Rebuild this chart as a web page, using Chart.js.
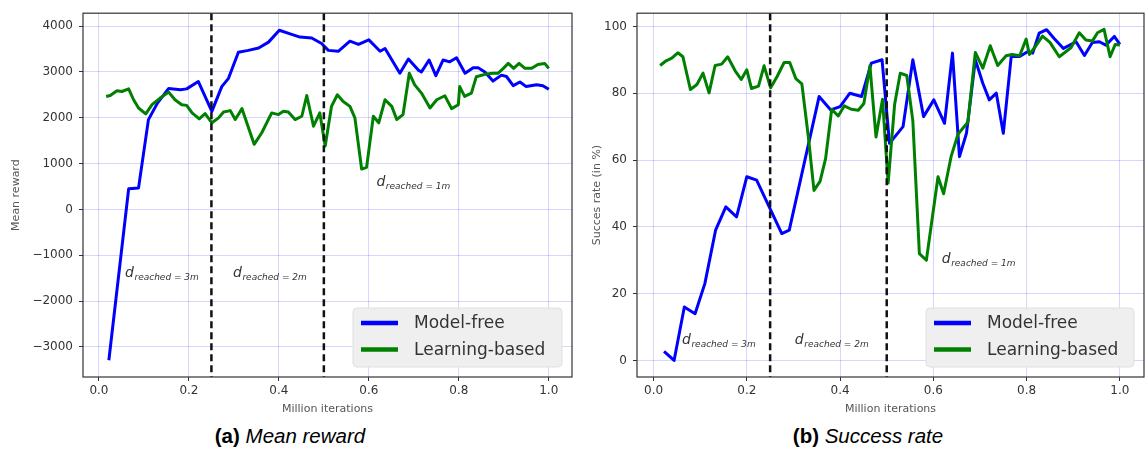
<!DOCTYPE html>
<html><head><meta charset="utf-8">
<script src="https://cdn.jsdelivr.net/npm/chart.js@4.4.0/dist/chart.umd.min.js"></script>
<style>
html,body{margin:0;padding:0;background:#fff;width:1146px;height:455px;overflow:hidden;position:relative}
canvas{position:absolute;top:0}
#c1{left:0}
#c2{left:580px}
.cap{position:absolute;top:424px;font-family:'Liberation Sans',Arial,sans-serif;font-size:20.5px;color:#000;white-space:nowrap;transform:translateX(-50%)}
.cap b{font-weight:bold}.cap i{font-style:italic}
</style></head><body>
<canvas id="c1" width="580" height="420"></canvas>
<canvas id="c2" width="566" height="420"></canvas>
<div class="cap" style="left:290px"><b>(a)</b> <i>Mean reward</i></div>
<div class="cap" style="left:868px"><b>(b)</b> <i>Success rate</i></div>
<script>
// ---------- data ----------
const seriesNames = ['Model-free', 'Learning-based'];
const phaseBoundaries = [0.25, 0.5];
const phaseLabels = ['3m', '2m', '1m'];
const xTicks = [0.0, 0.2, 0.4, 0.6, 0.8, 1.0];
const rewardTicks = [-3000, -2000, -1000, 0, 1000, 2000, 3000, 4000];
const successTicks = [0, 20, 40, 60, 80, 100];

// (a) Mean reward
const rewardFreeX = [0.022, 0.066, 0.088, 0.110, 0.130, 0.155, 0.181, 0.195, 0.221, 0.251, 0.273, 0.288, 0.310, 0.332, 0.355, 0.377, 0.401, 0.425, 0.447, 0.473, 0.495, 0.510, 0.532, 0.558, 0.577, 0.600, 0.625, 0.636, 0.669, 0.688, 0.710, 0.717, 0.734, 0.749, 0.765, 0.780, 0.795, 0.814, 0.832, 0.843, 0.858, 0.876, 0.895, 0.906, 0.921, 0.936, 0.950, 0.973, 0.987, 1.000];
const rewardFreeY = [-3290, 450, 470, 1960, 2320, 2640, 2610, 2630, 2790, 2140, 2680, 2860, 3430, 3470, 3520, 3650, 3910, 3830, 3760, 3740, 3620, 3470, 3450, 3670, 3600, 3700, 3450, 3510, 2970, 3280, 3040, 3000, 3260, 2920, 3260, 3220, 3310, 2970, 3090, 3090, 3000, 2800, 2930, 2900, 2700, 2780, 2680, 2720, 2700, 2620];
const rewardLearnX = [0.016, 0.025, 0.040, 0.051, 0.066, 0.077, 0.088, 0.104, 0.118, 0.136, 0.155, 0.169, 0.184, 0.195, 0.207, 0.223, 0.236, 0.251, 0.266, 0.277, 0.292, 0.303, 0.318, 0.345, 0.362, 0.384, 0.399, 0.410, 0.421, 0.436, 0.451, 0.462, 0.477, 0.491, 0.503, 0.517, 0.530, 0.543, 0.558, 0.569, 0.584, 0.595, 0.610, 0.622, 0.636, 0.651, 0.662, 0.676, 0.690, 0.702, 0.717, 0.736, 0.751, 0.769, 0.784, 0.799, 0.802, 0.813, 0.828, 0.839, 0.858, 0.876, 0.887, 0.899, 0.910, 0.922, 0.934, 0.947, 0.962, 0.976, 0.991, 1.000];
const rewardLearnY = [2465, 2486, 2587, 2573, 2631, 2393, 2213, 2084, 2285, 2430, 2559, 2393, 2285, 2270, 2106, 1976, 2091, 1890, 1998, 2127, 2156, 1961, 2199, 1421, 1674, 2106, 2069, 2141, 2127, 1961, 2033, 2486, 1816, 2106, 1384, 2249, 2501, 2356, 2249, 1998, 881, 918, 2033, 1890, 2393, 2249, 1961, 2069, 2970, 2717, 2538, 2213, 2393, 2480, 2199, 2285, 2680, 2465, 2538, 2896, 2947, 2970, 2970, 3078, 3186, 3078, 3186, 3078, 3078, 3164, 3186, 3078];

// (b) Success rate (in %)
const successFreeX = [0.0225, 0.044, 0.066, 0.089, 0.110, 0.133, 0.155, 0.178, 0.200, 0.221, 0.275, 0.291, 0.355, 0.380, 0.400, 0.421, 0.446, 0.467, 0.490, 0.506, 0.535, 0.556, 0.579, 0.601, 0.624, 0.641, 0.656, 0.671, 0.690, 0.706, 0.720, 0.735, 0.750, 0.767, 0.785, 0.802, 0.813, 0.827, 0.843, 0.859, 0.879, 0.906, 0.924, 0.941, 0.956, 0.970, 0.988, 1.000];
const successFreeY = [2.7, 0, 16, 14, 23, 39, 46, 43, 55, 54, 38, 39, 79, 75, 76, 80, 79, 89, 90, 65, 70, 90, 73, 78, 71, 92, 61, 68, 90, 83, 78, 80, 68, 91, 91, 92.4, 92, 98, 99, 96.4, 93.4, 95.4, 91.3, 95.2, 95.4, 94.4, 97, 94.6];
const successLearnX = [0.014, 0.027, 0.039, 0.052, 0.063, 0.079, 0.093, 0.106, 0.119, 0.132, 0.146, 0.159, 0.175, 0.188, 0.200, 0.210, 0.225, 0.237, 0.251, 0.265, 0.280, 0.292, 0.305, 0.318, 0.332, 0.344, 0.357, 0.369, 0.382, 0.396, 0.409, 0.424, 0.439, 0.451, 0.464, 0.477, 0.491, 0.503, 0.517, 0.529, 0.543, 0.556, 0.570, 0.585, 0.610, 0.622, 0.638, 0.653, 0.674, 0.690, 0.706, 0.722, 0.738, 0.756, 0.769, 0.785, 0.799, 0.806, 0.820, 0.834, 0.850, 0.870, 0.895, 0.913, 0.927, 0.941, 0.952, 0.966, 0.979, 0.990, 1.000];
const successLearnY = [88.3, 89.7, 90.5, 92.1, 90.9, 81.1, 82.6, 86, 80.1, 88.3, 88.7, 90.9, 86.7, 84.1, 87, 81.4, 82.1, 88.2, 81.6, 85, 89.2, 89.2, 84.4, 82.8, 66.9, 50.9, 53.6, 60.5, 75.2, 73.2, 76.2, 75.2, 74.9, 76.9, 88.2, 66.9, 78.2, 53.1, 76.7, 86, 85.3, 71.8, 32, 30, 55, 49.9, 61, 67.8, 71.3, 92.2, 87.5, 94.2, 88.3, 91.2, 91.6, 91.2, 96.2, 91.6, 94.2, 97.1, 95.2, 90.9, 93.6, 98.1, 95.9, 95.6, 98.1, 99.1, 90.9, 94.6, 94.4];

// ---------- styling / layout ----------
const FONT = "'DejaVu Sans', sans-serif";
const GRID = 'rgba(70,70,255,0.22)';
const X_MIN = -0.0355, X_MAX = 1.0517;

const decoPlugin = {
  id: 'deco',
  afterDatasetsDraw(chart, args, opts) {
    const {ctx, chartArea: a, scales: {x, y}} = chart;
    ctx.save();
    // phase boundaries
    ctx.strokeStyle = '#111';
    ctx.lineWidth = 2.5;
    ctx.setLineDash([7, 4]);
    phaseBoundaries.forEach(v => {
      const px = x.getPixelForValue(v);
      ctx.beginPath(); ctx.moveTo(px, a.top); ctx.lineTo(px, a.bottom); ctx.stroke();
    });
    ctx.setLineDash([]);
    // phase annotations
    ctx.fillStyle = '#333';
    ctx.textBaseline = 'alphabetic';
    ctx.textAlign = 'left';
    opts.notes.forEach((n, i) => {
      const px = x.getPixelForValue(n[0]), py = y.getPixelForValue(n[1]);
      ctx.font = `italic 14px ${FONT}`;
      ctx.fillText('d', px, py);
      const w = ctx.measureText('d').width;
      ctx.font = `italic 9px ${FONT}`;
      ctx.fillText('reached = ' + phaseLabels[i], px + w + 0.5, py + 3);
    });
    // frame
    ctx.strokeStyle = '#333';
    ctx.lineWidth = 1.2;
    ctx.strokeRect(a.left, a.top, a.right - a.left, a.bottom - a.top);
    // legend
    const bw = opts.legendWidth, bh = 59;
    const bx = a.right - 10 - bw, by = a.bottom - 10 - bh;
    ctx.beginPath();
    ctx.roundRect(bx, by, bw, bh, 4);
    ctx.fillStyle = '#efefef';
    ctx.fill();
    ctx.strokeStyle = '#e0e0e0';
    ctx.lineWidth = 1;
    ctx.stroke();
    chart.data.datasets.forEach((ds, i) => {
      const cy = by + 15 + i * 26.6;
      ctx.strokeStyle = ds.borderColor;
      ctx.lineWidth = 4.5;
      ctx.beginPath(); ctx.moveTo(bx + 8, cy); ctx.lineTo(bx + 45, cy); ctx.stroke();
      ctx.fillStyle = '#333';
      ctx.font = `17px ${FONT}`;
      ctx.textBaseline = 'middle';
      ctx.fillText(ds.label, bx + 61, cy + 1);
    });
    ctx.restore();
  }
};

function pts(xs, ys) { return xs.map((x, i) => ({x, y: ys[i]})); }

function makeChart(id, c) {
  return new Chart(document.getElementById(id), {
    type: 'line',
    data: {
      datasets: [
        {label: seriesNames[0], data: pts(c.fx, c.fy), borderColor: '#0000ff', borderWidth: 3, pointRadius: 0, tension: 0, fill: false, borderJoinStyle: 'round', order: 1},
        {label: seriesNames[1], data: pts(c.lx, c.ly), borderColor: '#008000', borderWidth: 3, pointRadius: 0, tension: 0, fill: false, borderJoinStyle: 'round', order: 0}
      ]
    },
    options: {
      responsive: false, animation: false, devicePixelRatio: 1,
      layout: {padding: {top: 7, right: c.padRight, left: 0, bottom: 0}},
      plugins: {legend: {display: false}, tooltip: {enabled: false},
        deco: {notes: c.notes, legendWidth: c.legendWidth}},
      scales: {
        x: {
          type: 'linear', min: X_MIN, max: X_MAX,
          afterBuildTicks: s => { s.ticks = xTicks.map(v => ({value: v})); },
          afterFit: s => { s.height = 43; },
          ticks: {callback: v => v.toFixed(1), font: {family: FONT, size: 12}, color: '#333', padding: 3, maxRotation: 0, autoSkip: false},
          grid: {color: GRID, tickColor: '#333', tickLength: 4, lineWidth: 1},
          border: {display: false},
          title: {display: true, text: 'Million iterations', font: {family: FONT, size: 11}, color: '#555', padding: {top: 0, bottom: 4}}
        },
        y: {
          type: 'linear', min: c.yMin, max: c.yMax,
          afterBuildTicks: s => { s.ticks = c.yTicks.map(v => ({value: v})); },
          afterFit: s => { s.width = c.yWidth; },
          ticks: {callback: v => String(v).replace('-', '\u2212'), font: {family: FONT, size: 12}, color: '#333', padding: 6, autoSkip: false},
          grid: {color: GRID, tickColor: '#333', tickLength: 4, lineWidth: 1},
          border: {display: false},
          title: {display: true, text: c.yTitle, font: {family: FONT, size: 11}, color: '#555', padding: {top: c.titlePad, bottom: 0}}
        }
      }
    },
    plugins: [decoPlugin]
  });
}

makeChart('c1', {
  fx: rewardFreeX, fy: rewardFreeY, lx: rewardLearnX, ly: rewardLearnY,
  yMin: -3655, yMax: 4281, yTicks: rewardTicks, yWidth: 83, padRight: 8, titlePad: 10,
  yTitle: 'Mean reward', legendWidth: 209,
  notes: [[0.058, -1467], [0.298, -1467], [0.617, 506]]
});
makeChart('c2', {
  fx: successFreeX, fy: successFreeY, lx: successLearnX, ly: successLearnY,
  yMin: -4.95, yMax: 103.95, yTicks: successTicks, yWidth: 57, padRight: 2, titlePad: 11,
  yTitle: 'Succes rate (in %)', legendWidth: 208,
  notes: [[0.061, 4.8], [0.303, 4.8], [0.618, 29.3]]
});
</script>
</body></html>
